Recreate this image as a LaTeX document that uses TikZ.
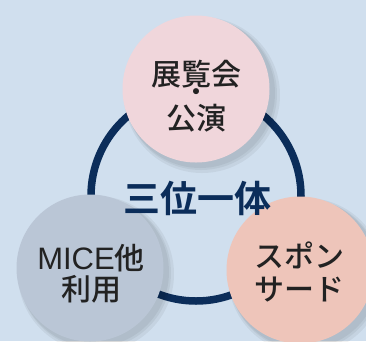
\documentclass[tikz,border=0pt]{standalone}
\usepackage{fontspec}
\newfontfamily\jp{Noto Sans CJK JP Medium}
\newfontfamily\jpb{Noto Sans CJK JP Bold}
\newfontfamily\lat{Liberation Sans}
\definecolor{bg}{HTML}{D0DFEE}
\definecolor{navy}{HTML}{0B2D5A}
\definecolor{pinkc}{HTML}{F0D6DB}
\definecolor{grayc}{HTML}{BAC6D6}
\definecolor{peachc}{HTML}{EEC5BA}
\definecolor{txt}{HTML}{222222}
\tikzset{
  blob/.style={circle, minimum size=147pt, inner sep=0pt},
  lbl/.style={inner sep=0pt, anchor=base, text=txt, font=\jp\fontsize{30}{30}\selectfont},
  shad/.style={fill=black, opacity=0.05, draw=none}
}
\begin{document}
\begin{tikzpicture}[x=1pt,y=-1pt]
\fill[bg] (0,0) rectangle (366,341);
\useasboundingbox (0,0) rectangle (366,341);
\node[circle, draw=navy, line width=7.5pt, minimum size=210pt, inner sep=0pt] (ring) at (196,196) {};
% soft shadows
\foreach \c in {(196,89),(90,268),(300,270)}{
  \foreach \r/\d in {78/6,76/5,75/4}{
    \fill[shad] \c ++(\d,\d) circle (\r);
  }
}
\node[blob, fill=pinkc] (top) at (196,89) {};
\node[blob, fill=grayc] (left) at (90,268) {};
\node[blob, fill=peachc] (right) at (300,270) {};
\node[lbl] (t1) at (196,85) {展覧会};
\node[lbl, font=\jp\fontsize{26}{26}\selectfont] (t2) at (196,101) {・};
\node[lbl] (t3) at (196,129) {公演};
\node[lbl] (l1) at (91,269) {{\lat\fontsize{31}{31}\selectfont MICE}他};
\node[lbl] (l2) at (91,300) {利用};
\node[lbl] (r1) at (299,267) {スポン};
\node[lbl] (r2) at (299,300) {サード};
\node[text=navy, anchor=base, font=\jpb\fontsize{37}{37}\selectfont, inner sep=0pt] (mid) at (197,212) {三位一体};
\end{tikzpicture}
\end{document}
